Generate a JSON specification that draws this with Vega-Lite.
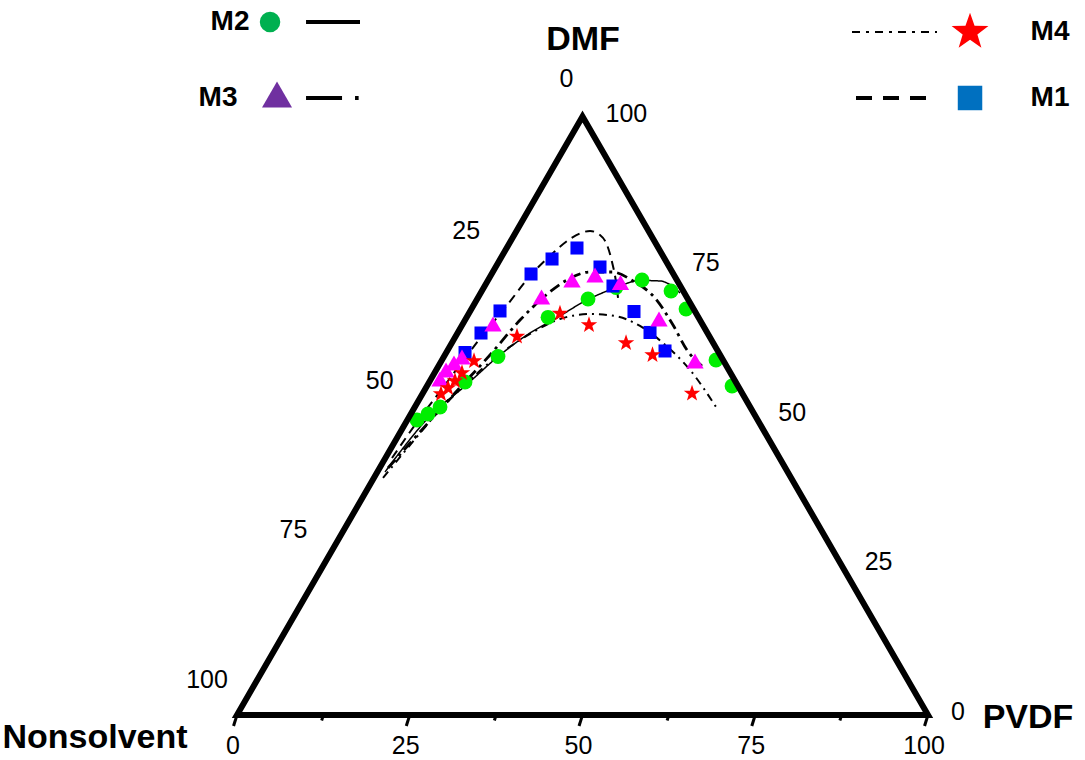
{
  "$schema": "https://vega.github.io/schema/vega-lite/v6.json",
  "width": 1085,
  "height": 760,
  "autosize": {"type": "fit", "contains": "padding"},
  "padding": 0,
  "background": "white",
  "config": {"view": {"stroke": null}},
  "datasets": {
    "frame": [
      {"x": 50, "y": 0, "o": 0},
      {"x": 100, "y": 0, "o": 1},
      {"x": 50, "y": 86.6, "o": 2},
      {"x": 0, "y": 0, "o": 3},
      {"x": 50, "y": 0, "o": 4}
    ],
    "ticks": [
      {"x": 0, "y": 0, "x2": -0.5, "y2": -1.6},
      {"x": 12.5, "y": 0, "x2": 12.25, "y2": -0.8},
      {"x": 25, "y": 0, "x2": 24.5, "y2": -1.6},
      {"x": 37.5, "y": 0, "x2": 37.25, "y2": -0.8},
      {"x": 50, "y": 0, "x2": 49.5, "y2": -1.6},
      {"x": 62.5, "y": 0, "x2": 62.25, "y2": -0.8},
      {"x": 75, "y": 0, "x2": 74.5, "y2": -1.6},
      {"x": 87.5, "y": 0, "x2": 87.25, "y2": -0.8},
      {"x": 100, "y": 0, "x2": 99.5, "y2": -1.6}
    ],
    "leftLabels": [
      {"x": 37.5, "y": 64.95, "text": "25"},
      {"x": 25, "y": 43.3, "text": "50"},
      {"x": 12.5, "y": 21.65, "text": "75"},
      {"x": 0, "y": 0, "text": "100"}
    ],
    "topLabel": [
      {"x": 50, "y": 86.6, "text": "0"}
    ],
    "rightLabels": [
      {"x": 50, "y": 86.6, "text": "100"},
      {"x": 62.5, "y": 64.95, "text": "75"},
      {"x": 75, "y": 43.3, "text": "50"},
      {"x": 87.5, "y": 21.65, "text": "25"},
      {"x": 100, "y": 0, "text": "0"}
    ],
    "bottomLabels": [
      {"x": 0, "y": 0, "text": "0"},
      {"x": 25, "y": 0, "text": "25"},
      {"x": 50, "y": 0, "text": "50"},
      {"x": 75, "y": 0, "text": "75"},
      {"x": 100, "y": 0, "text": "100"}
    ],
    "titles": [
      {"x": 50.07, "y": 97.69, "text": "DMF"},
      {"x": 114.47, "y": -0.43, "text": "PVDF"},
      {"x": -20.55, "y": -3.33, "text": "Nonsolvent"}
    ],
    "curves": [
      {"series": "M1", "x": 22.43, "y": 37.19},
      {"series": "M1", "x": 26.48, "y": 42.98},
      {"series": "M1", "x": 30.10, "y": 47.76},
      {"series": "M1", "x": 33.00, "y": 51.66},
      {"series": "M1", "x": 35.46, "y": 54.85},
      {"series": "M1", "x": 38.78, "y": 58.90},
      {"series": "M1", "x": 42.40, "y": 63.53},
      {"series": "M1", "x": 45.59, "y": 66.72},
      {"series": "M1", "x": 48.19, "y": 68.89},
      {"series": "M1", "x": 51.09, "y": 70.04},
      {"series": "M1", "x": 52.53, "y": 69.47},
      {"series": "M1", "x": 53.55, "y": 68.02},
      {"series": "M1", "x": 54.27, "y": 65.56},
      {"series": "M1", "x": 54.85, "y": 62.66},
      {"series": "M1", "x": 55.14, "y": 60.35},
      {"series": "M2", "x": 21.42, "y": 35.17},
      {"series": "M2", "x": 23.59, "y": 38.06},
      {"series": "M2", "x": 27.93, "y": 43.27},
      {"series": "M2", "x": 33.00, "y": 47.61},
      {"series": "M2", "x": 38.06, "y": 52.10},
      {"series": "M2", "x": 42.40, "y": 55.28},
      {"series": "M2", "x": 46.02, "y": 57.31},
      {"series": "M2", "x": 50.65, "y": 60.06},
      {"series": "M2", "x": 54.70, "y": 61.79},
      {"series": "M2", "x": 58.32, "y": 62.88},
      {"series": "M2", "x": 61.22, "y": 62.81},
      {"series": "M2", "x": 62.95, "y": 62.08},
      {"series": "M2", "x": 64.11, "y": 61.07},
      {"series": "M3", "x": 21.85, "y": 35.75},
      {"series": "M3", "x": 26.48, "y": 40.96},
      {"series": "M3", "x": 31.55, "y": 46.60},
      {"series": "M3", "x": 36.61, "y": 52.10},
      {"series": "M3", "x": 40.96, "y": 57.15},
      {"series": "M3", "x": 44.57, "y": 60.64},
      {"series": "M3", "x": 47.76, "y": 62.95},
      {"series": "M3", "x": 51.09, "y": 64.11},
      {"series": "M3", "x": 54.27, "y": 64.11},
      {"series": "M3", "x": 57.31, "y": 62.81},
      {"series": "M3", "x": 60.49, "y": 60.35},
      {"series": "M3", "x": 63.10, "y": 56.44},
      {"series": "M3", "x": 65.12, "y": 52.82},
      {"series": "M3", "x": 67.29, "y": 50.51},
      {"series": "M4", "x": 21.13, "y": 34.30},
      {"series": "M4", "x": 25.04, "y": 39.07},
      {"series": "M4", "x": 29.38, "y": 44.14},
      {"series": "M4", "x": 33.72, "y": 48.48},
      {"series": "M4", "x": 38.06, "y": 52.24},
      {"series": "M4", "x": 42.40, "y": 55.14},
      {"series": "M4", "x": 46.74, "y": 57.31},
      {"series": "M4", "x": 51.09, "y": 58.03},
      {"series": "M4", "x": 54.70, "y": 57.74},
      {"series": "M4", "x": 58.32, "y": 56.30},
      {"series": "M4", "x": 61.65, "y": 53.84},
      {"series": "M4", "x": 65.56, "y": 49.93},
      {"series": "M4", "x": 69.61, "y": 44.14}
    ],
    "points": [
      {"series": "M2", "x": 26.05, "y": 42.69},
      {"series": "M2", "x": 27.64, "y": 43.56},
      {"series": "M2", "x": 29.38, "y": 44.57},
      {"series": "M2", "x": 33.00, "y": 48.19},
      {"series": "M2", "x": 37.77, "y": 51.88},
      {"series": "M2", "x": 45.01, "y": 57.55},
      {"series": "M2", "x": 50.80, "y": 60.20},
      {"series": "M2", "x": 54.85, "y": 61.87},
      {"series": "M2", "x": 58.61, "y": 62.95},
      {"series": "M2", "x": 62.81, "y": 61.36},
      {"series": "M2", "x": 64.98, "y": 58.76},
      {"series": "M2", "x": 69.32, "y": 51.38},
      {"series": "M2", "x": 71.64, "y": 47.61},
      {"series": "M1", "x": 33.00, "y": 52.46},
      {"series": "M1", "x": 35.31, "y": 55.28},
      {"series": "M1", "x": 38.06, "y": 58.47},
      {"series": "M1", "x": 42.55, "y": 63.82},
      {"series": "M1", "x": 45.59, "y": 65.99},
      {"series": "M1", "x": 49.20, "y": 67.58},
      {"series": "M1", "x": 52.53, "y": 64.83},
      {"series": "M1", "x": 54.41, "y": 62.08},
      {"series": "M1", "x": 57.45, "y": 58.39},
      {"series": "M1", "x": 59.77, "y": 55.36},
      {"series": "M1", "x": 61.94, "y": 52.68},
      {"series": "M3", "x": 29.38, "y": 48.63},
      {"series": "M3", "x": 30.25, "y": 49.93},
      {"series": "M3", "x": 31.40, "y": 50.94},
      {"series": "M3", "x": 32.56, "y": 51.81},
      {"series": "M3", "x": 37.05, "y": 56.59},
      {"series": "M3", "x": 44.07, "y": 60.49},
      {"series": "M3", "x": 48.48, "y": 62.95},
      {"series": "M3", "x": 51.81, "y": 63.68},
      {"series": "M3", "x": 55.50, "y": 62.59},
      {"series": "M3", "x": 61.07, "y": 57.31},
      {"series": "M3", "x": 66.28, "y": 51.23},
      {"series": "M4", "x": 29.52, "y": 46.46},
      {"series": "M4", "x": 30.54, "y": 47.32},
      {"series": "M4", "x": 31.55, "y": 48.34},
      {"series": "M4", "x": 32.56, "y": 49.49},
      {"series": "M4", "x": 34.30, "y": 51.23},
      {"series": "M4", "x": 40.52, "y": 54.78},
      {"series": "M4", "x": 46.74, "y": 58.10},
      {"series": "M4", "x": 50.94, "y": 56.44},
      {"series": "M4", "x": 56.30, "y": 53.84},
      {"series": "M4", "x": 60.13, "y": 52.10},
      {"series": "M4", "x": 65.85, "y": 46.53}
    ],
    "legendLines": [
      {"series": "M2", "x": 9.99, "x2": 17.80, "y": 100.29},
      {"series": "M3", "x": 9.99, "x2": 17.60, "y": 89.29},
      {"series": "M4", "x": 89.00, "x2": 101.30, "y": 98.84},
      {"series": "M1", "x": 89.58, "x2": 100.29, "y": 89.29}
    ],
    "legendSymbols": [
      {"series": "M2", "x": 4.78, "y": 100.29},
      {"series": "M3", "x": 5.79, "y": 89.80},
      {"series": "M4", "x": 106.08, "y": 98.84},
      {"series": "M1", "x": 106.08, "y": 89.29}
    ],
    "legendText": [
      {"x": -1.01, "y": 100.29, "text": "M2"},
      {"x": -2.75, "y": 89.29, "text": "M3"},
      {"x": 117.66, "y": 98.84, "text": "M4"},
      {"x": 117.66, "y": 89.29, "text": "M1"}
    ]
  },
  "encoding": {
    "x": {"field": "x", "type": "quantitative", "scale": {"domain": [-34.30, 122.72], "nice": false, "zero": false}, "axis": null},
    "y": {"field": "y", "type": "quantitative", "scale": {"domain": [-6.51, 103.47], "nice": false, "zero": false}, "axis": null}
  },
  "layer": [
    {
      "data": {"name": "curves"},
      "mark": {"type": "line", "interpolate": "monotone", "color": "black"},
      "encoding": {
        "detail": {"field": "series"},
        "strokeDash": {"field": "series", "type": "nominal", "legend": null,
          "scale": {"domain": ["M1", "M2", "M3", "M4"], "range": [[9, 6], [1, 0], [11, 5, 3, 5], [8, 5, 2, 5]]}},
        "strokeWidth": {"field": "series", "type": "nominal", "legend": null,
          "scale": {"type": "ordinal", "domain": ["M1", "M2", "M3", "M4"], "range": [2, 1.5, 2.8, 2]}}
      }
    },
    {
      "data": {"name": "points"},
      "mark": {"type": "point", "filled": true, "opacity": 1, "strokeWidth": 0},
      "encoding": {
        "color": {"field": "series", "type": "nominal", "legend": null,
          "scale": {"domain": ["M1", "M2", "M3", "M4"], "range": ["#0000ff", "#00ee00", "#ff00ff", "#ff0000"]}},
        "shape": {"field": "series", "type": "nominal", "legend": null,
          "scale": {"domain": ["M1", "M2", "M3", "M4"], "range": ["square", "circle", "triangle-up", "M0,-1L0.235,-0.324L0.951,-0.309L0.38,0.124L0.588,0.809L0,0.4L-0.588,0.809L-0.38,0.124L-0.951,-0.309L-0.235,-0.324Z"]}},
        "size": {"field": "series", "type": "nominal", "legend": null,
          "scale": {"type": "ordinal", "domain": ["M1", "M2", "M3", "M4"], "range": [170, 220, 300, 300]}}
      }
    },
    {
      "data": {"name": "frame"},
      "mark": {"type": "line", "color": "black", "strokeWidth": 6, "strokeJoin": "miter", "strokeCap": "butt"},
      "encoding": {"order": {"field": "o", "type": "quantitative"}}
    },
    {
      "data": {"name": "ticks"},
      "mark": {"type": "rule", "color": "black", "strokeWidth": 3},
      "encoding": {"x2": {"field": "x2"}, "y2": {"field": "y2"}}
    },
    {
      "data": {"name": "leftLabels"},
      "mark": {"type": "text", "font": "Liberation Sans", "fontSize": 25, "align": "center", "baseline": "middle", "dx": -30, "dy": -35},
      "encoding": {"text": {"field": "text"}}
    },
    {
      "data": {"name": "topLabel"},
      "mark": {"type": "text", "font": "Liberation Sans", "fontSize": 25, "align": "center", "baseline": "middle", "dx": -16, "dy": -38},
      "encoding": {"text": {"field": "text"}}
    },
    {
      "data": {"name": "rightLabels"},
      "mark": {"type": "text", "font": "Liberation Sans", "fontSize": 25, "align": "left", "baseline": "middle", "dx": 23, "dy": -3},
      "encoding": {"text": {"field": "text"}}
    },
    {
      "data": {"name": "bottomLabels"},
      "mark": {"type": "text", "font": "Liberation Sans", "fontSize": 25, "align": "center", "baseline": "middle", "dx": -4, "dy": 31},
      "encoding": {"text": {"field": "text"}}
    },
    {
      "data": {"name": "titles"},
      "mark": {"type": "text", "font": "Liberation Sans", "fontWeight": "bold", "fontSize": 34, "align": "center", "baseline": "middle"},
      "encoding": {"text": {"field": "text"}}
    },
    {
      "data": {"name": "legendLines"},
      "mark": {"type": "rule", "color": "black"},
      "encoding": {
        "x2": {"field": "x2"},
        "strokeDash": {"field": "series", "type": "nominal", "legend": null,
          "scale": {"domain": ["M1", "M2", "M3", "M4"], "range": [[16, 11], [1, 0], [36, 13, 4, 60], [8, 6, 3, 6]]}},
        "strokeWidth": {"field": "series", "type": "nominal", "legend": null,
          "scale": {"type": "ordinal", "domain": ["M1", "M2", "M3", "M4"], "range": [4, 4, 4, 2]}}
      }
    },
    {
      "data": {"name": "legendSymbols"},
      "mark": {"type": "point", "filled": true, "opacity": 1, "strokeWidth": 0},
      "encoding": {
        "color": {"field": "series", "type": "nominal", "legend": null,
          "scale": {"domain": ["M1", "M2", "M3", "M4"], "range": ["#0070c0", "#00b050", "#7030a0", "#ff0000"]}},
        "shape": {"field": "series", "type": "nominal", "legend": null,
          "scale": {"domain": ["M1", "M2", "M3", "M4"], "range": ["square", "circle", "triangle-up", "M0,-1L0.235,-0.324L0.951,-0.309L0.38,0.124L0.588,0.809L0,0.4L-0.588,0.809L-0.38,0.124L-0.951,-0.309L-0.235,-0.324Z"]}},
        "size": {"field": "series", "type": "nominal", "legend": null,
          "scale": {"type": "ordinal", "domain": ["M1", "M2", "M3", "M4"], "range": [600, 420, 900, 1500]}}
      }
    },
    {
      "data": {"name": "legendText"},
      "mark": {"type": "text", "font": "Liberation Sans", "fontWeight": "bold", "fontSize": 28, "align": "center", "baseline": "middle"},
      "encoding": {"text": {"field": "text"}}
    }
  ],
  "resolve": {"scale": {"color": "independent", "shape": "independent", "size": "independent", "strokeDash": "independent", "strokeWidth": "independent"}}
}
